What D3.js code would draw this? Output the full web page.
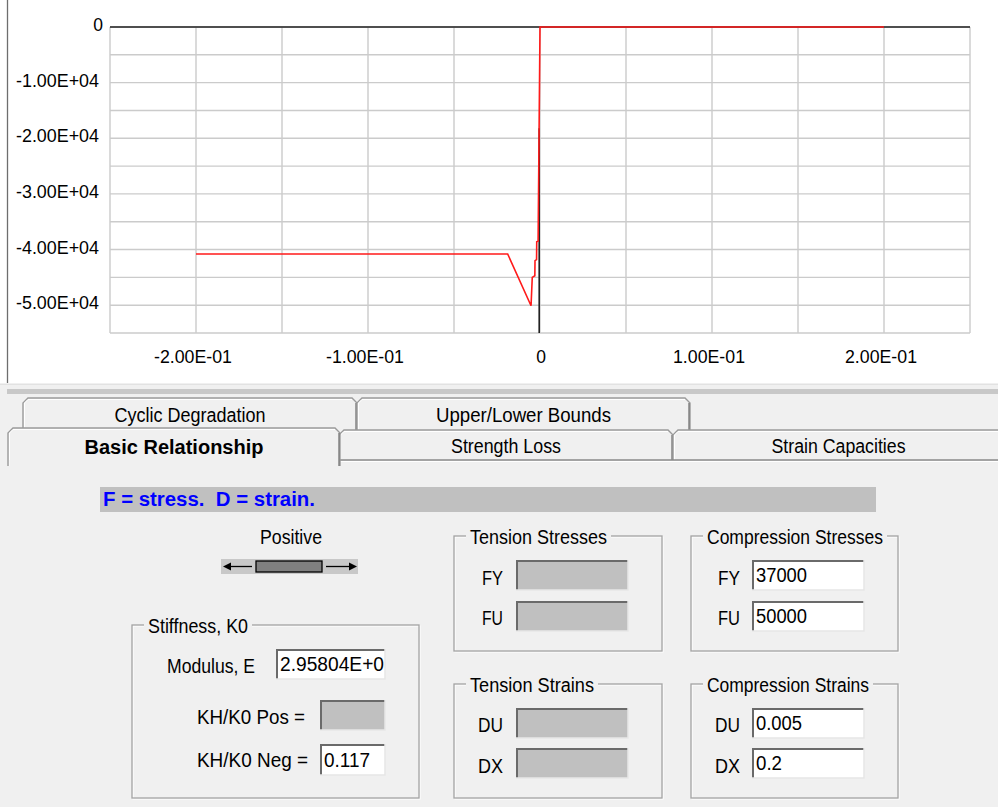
<!DOCTYPE html>
<html>
<head>
<meta charset="utf-8">
<script src="https://cdn.jsdelivr.net/npm/d3@7"></script>
<style>
  body { margin: 0; background: #f0f0f0; }
  svg text { font-family: "Liberation Sans", Arial, sans-serif; white-space: pre; }
</style>
</head>
<body>
<svg id="chart" width="998" height="807"></svg>
<script>
// curve (strain, stress)
const strain = [-0.2, -0.0188, -0.0052, -0.0045, -0.0030, -0.0029, -0.0020, -0.0019, -0.0011, 0, 0.2];
const stress = [-40800, -40800, -50100, -45000, -44700, -42000, -41800, -38600, -38500, 0, 0];
const xTicks = [-0.2, -0.1, 0, 0.1, 0.2];
const yTicks = [0, -10000, -20000, -30000, -40000, -50000];
const xGrid = d3.range(-0.25, 0.2501, 0.05);
const yGrid = d3.range(-55000, 1, 5000);
const zeroLineStress = [-18200, -55000];

const svg = d3.select("#chart");
const W = 998, H = 807;
const FS = 20;

// scientific labels like 2.00E-01
function sci(v) {
  if (v === 0) return "0";
  let [m, e] = v.toExponential(2).split("e");
  const sign = e[0] === "-" ? "-" : "+";
  e = e.replace(/[+-]/, "");
  return m + "E" + sign + e.padStart(2, "0");
}

function txt(g, x, y, s, o = {}) {
  const t = g.append("text")
    .attr("x", x).attr("y", y).attr("dy", "0.35em")
    .attr("text-anchor", o.anchor || "start")
    .attr("font-size", o.size || FS)
    .attr("font-weight", o.weight || "normal")
    .attr("fill", o.fill || "#000")
    .text(s);
  if (o.w) t.attr("textLength", o.w).attr("lengthAdjust", "spacingAndGlyphs");
  return t;
}

// ---------- chart area ----------
svg.append("rect").attr("x", 0).attr("y", 0).attr("width", W).attr("height", 383).attr("fill", "#fff");
svg.append("line").attr("x1", 7.5).attr("x2", 7.5).attr("y1", 0).attr("y2", 383).attr("stroke", "#6e6e6e").attr("stroke-width", 1.3);

const x = d3.scaleLinear().domain([-0.25, 0.25]).range([110, 970]);
const y = d3.scaleLinear().domain([-55000, 0]).range([333, 27]);

const grid = svg.append("g");
grid.selectAll(".gx").data(xGrid).enter().append("line")
  .attr("x1", d => x(d)).attr("x2", d => x(d)).attr("y1", y(0)).attr("y2", y(-55000))
  .attr("stroke", "#cbcbcb").attr("stroke-width", 1.4);
grid.selectAll(".gy").data(yGrid).enter().append("line")
  .attr("x1", x(-0.25)).attr("x2", x(0.25)).attr("y1", d => y(d)).attr("y2", d => y(d))
  .attr("stroke", "#cbcbcb").attr("stroke-width", 1.4);

// zero lines
svg.append("line").attr("x1", x(-0.25)).attr("x2", x(0.25)).attr("y1", y(0)).attr("y2", y(0))
  .attr("stroke", "#222").attr("stroke-width", 1.6);
svg.append("line").attr("x1", x(0) - 0.8).attr("x2", x(0) - 0.8)
  .attr("y1", y(zeroLineStress[0])).attr("y2", y(zeroLineStress[1]))
  .attr("stroke", "#222").attr("stroke-width", 1.6);

const pts = strain.map((s, i) => [s, stress[i]]);
svg.append("path").datum(pts)
  .attr("d", d3.line().x(d => x(d[0])).y(d => y(d[1])))
  .attr("fill", "none").attr("stroke", "#ff1a1a").attr("stroke-width", 1.6);

// tick labels
const tl = svg.append("g");
yTicks.forEach(v => {
  txt(tl, v === 0 ? 103 : 99, y(v) - 2, sci(v), { anchor: "end", size: 17.5, w: v === 0 ? null : 83 });
});
xTicks.forEach(v => {
  txt(tl, x(v) - (v === 0 ? -1 : 3), 357, sci(v), { anchor: "middle", size: 17.5, w: v === 0 ? null : (v < 0 ? 78 : 72) });
});

// ---------- dialog part ----------
svg.append("line").attr("x1", 0).attr("x2", W).attr("y1", 384.5).attr("y2", 384.5).attr("stroke", "#e2e2e2");
svg.append("rect").attr("x", 7).attr("y", 389).attr("width", W - 7).attr("height", 5).attr("fill", "#c8c8c8");

const tabs = svg.append("g");
function tab(x0, x1, yt, yb, label, opts = {}) {
  const c = 5;
  tabs.append("path")
    .attr("d", `M${x0},${yb} L${x0},${yt + c} L${x0 + c},${yt} L${x1 - c},${yt} L${x1},${yt + c} L${x1},${yb}`)
    .attr("fill", "#f0f0f0").attr("stroke", "#9a9a9a").attr("stroke-width", 1.4);
  tabs.append("line").attr("x1", x1 - 1).attr("x2", x1 - 1).attr("y1", yt + c).attr("y2", yb)
    .attr("stroke", "#6a6a6a").attr("stroke-width", 1.2);
  tabs.append("path")
    .attr("d", `M${x0 + 1.5},${yb} L${x0 + 1.5},${yt + c} L${x0 + c},${yt + 1.5} L${x1 - c},${yt + 1.5}`)
    .attr("fill", "none").attr("stroke", "#fff").attr("stroke-width", 1);
  txt(tabs, (x0 + x1) / 2, opts.ty, label, { anchor: "middle", w: opts.w, weight: opts.weight });
}
tab(23, 357, 398, 431, "Cyclic Degradation", { ty: 415, w: 151 });
tab(357, 690, 398, 431, "Upper/Lower Bounds", { ty: 415, w: 175 });
tab(339, 673, 430, 460, "Strength Loss", { ty: 446, w: 110 });
tab(673, 1004, 430, 460, "Strain Capacities", { ty: 446, w: 134 });
tabs.append("line").attr("x1", 339).attr("x2", W).attr("y1", 460).attr("y2", 460).attr("stroke", "#8a8a8a").attr("stroke-width", 1.4);
tabs.append("line").attr("x1", 339).attr("x2", W).attr("y1", 461.5).attr("y2", 461.5).attr("stroke", "#fff").attr("stroke-width", 1);
tab(8, 340, 428, 466, "Basic Relationship", { ty: 447, w: 179, weight: "bold" });
tabs.append("rect").attr("x", 9.5).attr("y", 460).attr("width", 328).attr("height", 8).attr("fill", "#f0f0f0");

// info strip
svg.append("rect").attr("x", 100).attr("y", 487).attr("width", 776).attr("height", 25).attr("fill", "#c0c0c0");
txt(svg, 103, 499, "F = stress.  D = strain.", { weight: "bold", fill: "#0000ff", w: 212 });

// positive arrow sign
txt(svg, 291, 537, "Positive", { anchor: "middle", w: 62 });
const ar = svg.append("g");
ar.append("rect").attr("x", 221).attr("y", 559).attr("width", 137).attr("height", 15).attr("fill", "#c8c8c8");
ar.append("rect").attr("x", 256).attr("y", 561).attr("width", 66).attr("height", 11).attr("fill", "#808080").attr("stroke", "#000").attr("stroke-width", 1.3);
ar.append("line").attr("x1", 229).attr("x2", 252).attr("y1", 566.5).attr("y2", 566.5).attr("stroke", "#000").attr("stroke-width", 1.3);
ar.append("path").attr("d", "M223,566.5 L231,562.5 L231,570.5 Z").attr("fill", "#000");
ar.append("line").attr("x1", 326).attr("x2", 350).attr("y1", 566.5).attr("y2", 566.5).attr("stroke", "#000").attr("stroke-width", 1.3);
ar.append("path").attr("d", "M357,566.5 L349,562.5 L349,570.5 Z").attr("fill", "#000");

// group boxes
function group(x0, y0, x1, y1, title, tw) {
  const g = svg.append("g");
  g.append("rect").attr("x", x0 + 1).attr("y", y0 + 1).attr("width", x1 - x0).attr("height", y1 - y0)
    .attr("fill", "none").attr("stroke", "#fff").attr("stroke-width", 1);
  g.append("rect").attr("x", x0).attr("y", y0).attr("width", x1 - x0).attr("height", y1 - y0)
    .attr("fill", "none").attr("stroke", "#a3a3a3").attr("stroke-width", 1.3);
  g.append("rect").attr("x", x0 + 12).attr("y", y0 - 8).attr("width", tw + 8).attr("height", 16).attr("fill", "#f0f0f0");
  txt(g, x0 + 16, y0 + 1, title, { w: tw });
  return g;
}
function input(x0, y0, w, h, val, tw) {
  const g = svg.append("g");
  g.append("rect").attr("x", x0).attr("y", y0).attr("width", w).attr("height", h)
    .attr("fill", val === null ? "#c0c0c0" : "#fff");
  g.append("path").attr("d", `M${x0 + 1},${y0 + h} L${x0 + 1},${y0 + 1} L${x0 + w},${y0 + 1}`)
    .attr("fill", "none").attr("stroke", "#6a6a6a").attr("stroke-width", 2);
  g.append("path").attr("d", `M${x0},${y0 + h} L${x0 + w},${y0 + h} L${x0 + w},${y0}`)
    .attr("fill", "none").attr("stroke", "#e6e6e6").attr("stroke-width", 1.5);
  if (val !== null) txt(g, x0 + 4, y0 + h / 2, val, { w: tw });
}

group(132, 625, 419, 798, "Stiffness, K0", 100);
txt(svg, 255, 666, "Modulus, E", { anchor: "end", w: 88 });
input(276, 649, 109, 30, "2.95804E+0", 104);
txt(svg, 197, 717, "KH/K0 Pos =", { w: 108 });
input(320, 700, 65, 30, null);
txt(svg, 197, 760, "KH/K0 Neg =", { w: 111 });
input(320, 744, 65, 31, "0.117", 46);

group(454, 536, 662, 651, "Tension Stresses", 137);
txt(svg, 503, 578, "FY", { anchor: "end", w: 21 });
input(516, 560, 112, 30, null);
txt(svg, 503, 618, "FU", { anchor: "end", w: 21 });
input(516, 601, 112, 30, null);

group(691, 536, 898, 651, "Compression Stresses", 176);
txt(svg, 740, 578, "FY", { anchor: "end", w: 22 });
input(752, 560, 112, 30, "37000", 51);
txt(svg, 740, 618, "FU", { anchor: "end", w: 22 });
input(752, 601, 112, 30, "50000", 51);

group(454, 684, 662, 798, "Tension Strains", 124);
txt(svg, 503, 725, "DU", { anchor: "end", w: 25 });
input(516, 708, 112, 30, null);
txt(svg, 503, 766, "DX", { anchor: "end", w: 25 });
input(516, 748, 112, 30, null);

group(691, 684, 898, 798, "Compression Strains", 162);
txt(svg, 740, 725, "DU", { anchor: "end", w: 25 });
input(752, 708, 112, 30, "0.005", 46);
txt(svg, 740, 766, "DX", { anchor: "end", w: 25 });
input(752, 748, 112, 30, "0.2", 26);
</script>
</body>
</html>
